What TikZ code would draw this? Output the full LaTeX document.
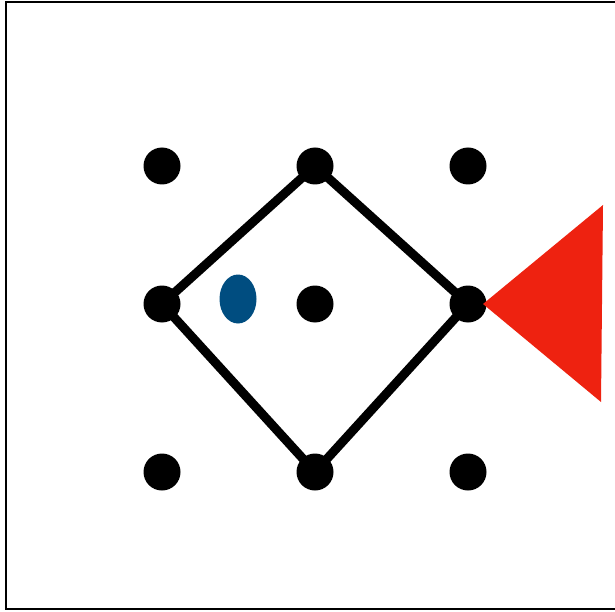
\documentclass[tikz,border=0pt]{standalone}
\definecolor{tri}{RGB}{238,34,16}
\definecolor{ell}{RGB}{0,77,128}
\begin{document}
\begin{tikzpicture}[x=1pt,y=-1pt,
  dot/.style={circle,fill=black,inner sep=0pt,minimum size=37pt},
  edge/.style={line width=9pt,line join=round}]
\useasboundingbox (0,0) rectangle (615,612);
\draw[line width=1.6pt] (620,2) -- (6,2) -- (6,609) -- (620,609);
\node[dot] (a1) at (162,166) {};
\node[dot] (a2) at (315,166) {};
\node[dot] (a3) at (468,166) {};
\node[dot] (b1) at (162,304) {};
\node[dot] (b2) at (315,304) {};
\node[dot] (b3) at (468,304) {};
\node[dot] (c1) at (162,472) {};
\node[dot] (c2) at (315,472) {};
\node[dot] (c3) at (468,472) {};
\draw[edge] (a2.center) -- (b3.center) -- (c2.center) -- (b1.center) -- cycle;
\fill[tri] (483,304) -- (603,205) -- (601,402) -- cycle;
\fill[ell] (238,299) ellipse [x radius=18.5, y radius=24.5];
\end{tikzpicture}
\end{document}
